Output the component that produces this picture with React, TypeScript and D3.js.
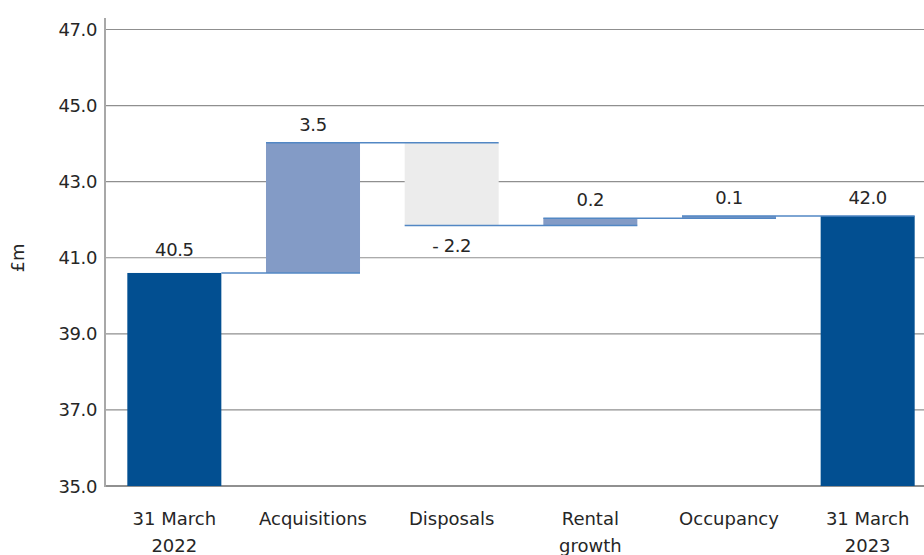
import React from "react";
import * as d3 from "d3";

const categories = [["31 March", "2022"], ["Acquisitions"], ["Disposals"], ["Rental", "growth"], ["Occupancy"], ["31 March", "2023"]];
const kinds = ["total", "delta", "delta", "delta", "delta", "total"];
const values = [40.6, 3.42, -2.17, 0.19, 0.06, 42.1];
const valueLabels = ["40.5", "3.5", "- 2.2", "0.2", "0.1", "42.0"];
const yTicks = [35, 37, 39, 41, 43, 45, 47];

const W = 924, H = 555;
const FONT = "'DejaVu Sans', sans-serif";

export default function App() {
  const x = d3.scaleBand<number>().domain(d3.range(6)).range([105, 937]).paddingInner(0.322).paddingOuter(0.161);
  const y = d3.scaleLinear().domain([35, 47]).range([486, 29.5]);

  let cum = 0;
  const segs = values.map((v, i) => {
    let lo: number, hi: number;
    if (kinds[i] === "total") { lo = 35; hi = v; cum = v; }
    else { const start = cum; const end = cum + v; lo = Math.min(start, end); hi = Math.max(start, end); cum = end; }
    return { i, v, lo, hi, level: cum };
  });

  const fill = (i: number) => {
    if (kinds[i] === "total") return "#024f91";
    if (values[i] < 0) return "#ececec";
    return "#839bc6";
  };
  const connColor = "#5287c4";
  const txt = "#262626";

  return (
    <div style={{ position: "absolute", left: 0, top: 0 }}>
      <svg width={W} height={H} style={{ display: "block", fontFamily: FONT }}>
        <rect width={W} height={H} fill="#fff" />
        {yTicks.map((t) => (
          <g key={t}>
            <line x1={105} x2={W} y1={y(t)} y2={y(t)} stroke={t === 35 ? "#6b6b6b" : "#8f8f8f"} strokeWidth={t === 35 ? 1.5 : 1.2} />
            <text x={97} y={y(t) + 6.5} textAnchor="end" fontSize={18} fill={txt} letterSpacing={-0.4}>{t.toFixed(1)}</text>
          </g>
        ))}
        <line x1={105} x2={105} y1={18} y2={487} stroke="#a8a8a8" strokeWidth={2} />
        <text transform={`translate(24,258) rotate(-90)`} textAnchor="middle" fontSize={18} fill={txt}>£m</text>

        {segs.map((s) => {
          const x0 = x(s.i)!;
          const bw = x.bandwidth();
          const yt = y(s.hi), yb = y(s.lo);
          return <rect key={s.i} x={x0} y={yt} width={bw} height={Math.max(1, yb - yt)} fill={fill(s.i)} />;
        })}
        {segs.slice(0, -1).map((s) => {
          const x0 = x(s.i)!;
          const x1 = x(s.i + 1)! + x.bandwidth();
          return (
            <line key={"c" + s.i} x1={kinds[s.i] === "total" ? x0 + x.bandwidth() : x0} x2={x1} y1={y(s.level)} y2={y(s.level)} stroke={connColor} strokeWidth={1.5} />
          );
        })}
        {segs.map((s) => {
          const cx = x(s.i)! + x.bandwidth() / 2;
          const neg = kinds[s.i] === "delta" && s.v < 0;
          const yy = neg ? y(s.lo) + 27 : y(s.hi) - (s.i === 0 ? 17 : 12);
          return (
            <text key={"l" + s.i} x={cx} y={yy} textAnchor="middle" fontSize={18} fill={txt} letterSpacing={-0.4}>{valueLabels[s.i]}</text>
          );
        })}
        {categories.map((c, i) => (
          <text key={"x" + i} x={x(i)! + x.bandwidth() / 2} y={525} textAnchor="middle" fontSize={18} fill={txt}>
            {c.map((line, j) => (
              <tspan key={j} x={x(i)! + x.bandwidth() / 2} dy={j === 0 ? 0 : 27}>{line}</tspan>
            ))}
          </text>
        ))}
      </svg>
    </div>
  );
}
